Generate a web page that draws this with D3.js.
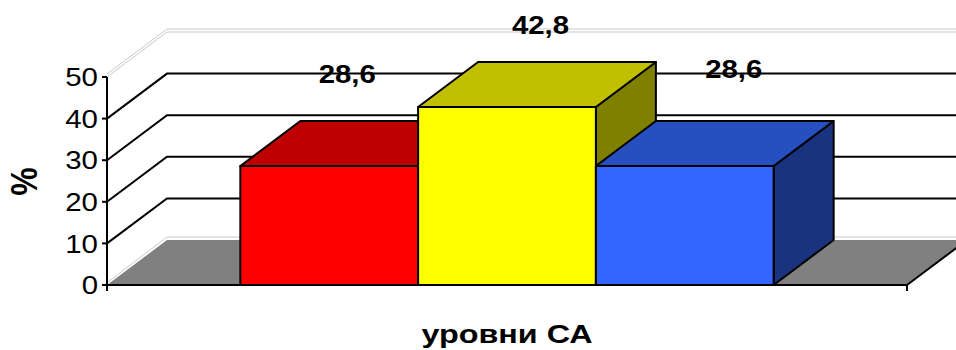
<!DOCTYPE html>
<html>
<head>
<meta charset="utf-8">
<script src="https://cdn.jsdelivr.net/npm/d3@7/dist/d3.min.js"></script>
<style>
  html, body { margin: 0; padding: 0; background: #fff; }
  svg { display: block; }
  text { font-family: "Liberation Sans", Arial, sans-serif; fill: #000; }
</style>
</head>
<body>
<svg id="chart" width="956" height="350"></svg>
<script>
// ---- data ----
const categories = [""];                 // single category group
const seriesKeys = ["s1", "s2", "s3"];   // three levels
const values = [28.6, 42.8, 28.6];       // percent
const yTicks = [0, 10, 20, 30, 40, 50];
const yTitle = "%";
const xTitle = "уровни СА";

// ---- styling ----
const faceColors = [
  { front: "#ff0000", top: "#bf0000", side: "#800000" },
  { front: "#ffff00", top: "#c0c000", side: "#808000" },
  { front: "#3366ff", top: "#264fbf", side: "#19337f" }
];
const stretch = 1.15;                    // horizontal text stretch
const depth = { dx: 60, dy: -45 };       // oblique depth offset
const W = 956, H = 350;
const plot = { left: 107, right: 907, top: 77, bottom: 285 };

const svg = d3.select("#chart");
const fmt = d3.formatLocale({ decimal: ",", thousands: " ", grouping: [3], currency: ["", ""] }).format(".1f");

const y = d3.scaleLinear().domain([0, 50]).range([plot.bottom, plot.top]);
const xCat = d3.scaleBand().domain(categories).range([plot.left, plot.right]).padding(0);
const gapWidth = 0.5;
const clusterW = xCat.bandwidth() / (1 + gapWidth);
const clusterX0 = xCat(categories[0]) + (xCat.bandwidth() - clusterW) / 2;
const xSer = d3.scaleBand().domain(seriesKeys).range([clusterX0, clusterX0 + clusterW]).padding(0);

const line = d3.line();
const { dx, dy } = depth;

// ---- floor ----
const y0 = y(0);
svg.append("path")
  .attr("d", line([[plot.left, y0], [plot.left + dx, y0 + dy], [plot.right + dx, y0 + dy], [plot.right, y0]]) + "Z")
  .attr("fill", "#808080").attr("stroke", "none");
// floor rim
svg.append("path")
  .attr("d", line([[plot.left + 1, y0 - 3], [plot.left + dx, y0 + dy - 3], [W + 10, y0 + dy - 3]]))
  .attr("fill", "none").attr("stroke", "#c8c8c8").attr("stroke-width", 1);

// ---- gridlines on side and back walls ----
const gridVals = yTicks.filter(v => v > 0 && v < 50);
svg.append("g").selectAll("path").data(gridVals).join("path")
  .attr("d", v => line([[plot.left, y(v)], [plot.left + dx, y(v) + dy], [W + 10, y(v) + dy]]))
  .attr("fill", "none").attr("stroke", "#000").attr("stroke-width", 2);

// wall top edge (double light rim)
const yMax = y(50);
[0, -3].forEach(off => {
  svg.append("path")
    .attr("d", line([[plot.left, yMax + off], [plot.left + dx, yMax + dy + off], [W + 10, yMax + dy + off]]))
    .attr("fill", "none").attr("stroke", "#c8c8c8").attr("stroke-width", 1);
});

// right floor edge
svg.append("path")
  .attr("d", line([[plot.right, y0], [plot.right + dx, y0 + dy]]))
  .attr("fill", "none").attr("stroke", "#000").attr("stroke-width", 2);

// ---- axes ----
const axisG = svg.append("g");
axisG.append("path")
  .attr("d", line([[plot.left, plot.top], [plot.left, y0]]))
  .attr("stroke", "#000").attr("stroke-width", 2).attr("fill", "none");
axisG.append("path")
  .attr("d", line([[plot.left - 1, y0], [plot.right + 1, y0]]))
  .attr("stroke", "#000").attr("stroke-width", 2).attr("fill", "none");
axisG.selectAll("path.ytick").data(yTicks).join("path").attr("class", "ytick")
  .attr("d", v => line([[plot.left - 5, y(v)], [plot.left, y(v)]]))
  .attr("stroke", "#000").attr("stroke-width", 2);
axisG.selectAll("path.xtick").data(xCat.range()).join("path").attr("class", "xtick")
  .attr("d", xv => line([[xv, y0], [xv, y0 + 6]]))
  .attr("stroke", "#000").attr("stroke-width", 2);
axisG.selectAll("text.ylab").data(yTicks).join("text").attr("class", "ylab")
  .attr("transform", v => `translate(${plot.left - 9},${y(v) + 9.2}) scale(${stretch},1)`)
  .attr("text-anchor", "end")
  .style("font-size", "25.6px")
  .text(v => v);

// ---- 3D bars ----
const bars = seriesKeys.map((k, i) => ({ k, i, v: values[i] }));
const barG = svg.append("g");
bars.forEach(b => {
  const x0 = xSer(b.k), x1 = x0 + xSer.bandwidth();
  const yt = y(b.v), yb = y(0);
  const c = faceColors[b.i];
  const g = barG.append("g").attr("stroke", "#000").attr("stroke-width", 2).attr("stroke-linejoin", "round");
  g.append("path").attr("fill", c.side)
    .attr("d", line([[x1, yt], [x1 + dx, yt + dy], [x1 + dx, yb + dy], [x1, yb]]) + "Z");
  g.append("path").attr("fill", c.top)
    .attr("d", line([[x0, yt], [x0 + dx, yt + dy], [x1 + dx, yt + dy], [x1, yt]]) + "Z");
  g.append("path").attr("fill", c.front)
    .attr("d", line([[x0, yt], [x1, yt], [x1, yb], [x0, yb]]) + "Z");
});

// ---- value labels (lifted above each bar, with a slight perspective spread) ----
const mid = (plot.left + plot.right) / 2;
svg.append("g").selectAll("text").data(bars).join("text")
  .attr("transform", b => {
    const cx = xSer(b.k) + xSer.bandwidth() / 2;
    const spread = cx - mid;
    const lx = cx + 33.5 + 0.087 * spread;
    const ly = y(b.v) - 110.7 + 0.88 * b.v - 0.014 * spread;
    return `translate(${lx},${ly}) scale(${stretch},1)`;
  })
  .attr("text-anchor", "middle")
  .style("font-size", "25.5px").style("font-weight", "bold")
  .text(b => fmt(b.v));

// ---- axis titles ----
svg.append("text")
  .attr("transform", `translate(37,181.5) scale(${stretch},1) rotate(-90)`)
  .attr("text-anchor", "middle")
  .style("font-size", "32px").style("font-weight", "bold")
  .text(yTitle);

svg.append("text")
  .attr("transform", `translate(${mid},343) scale(1.22,1)`)
  .attr("text-anchor", "middle")
  .style("font-size", "26.5px").style("font-weight", "bold")
  .text(xTitle);
</script>
</body>
</html>
